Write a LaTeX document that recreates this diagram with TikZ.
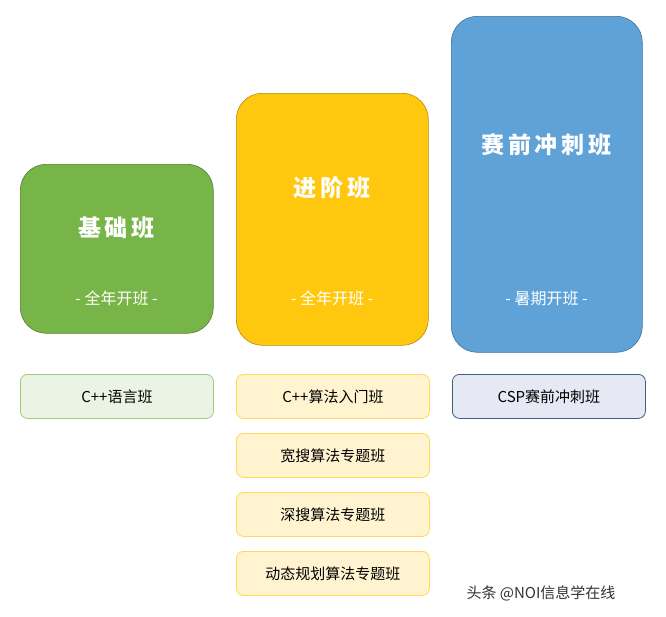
\documentclass[tikz,border=0pt]{standalone}
\usepackage{fontspec}
\newfontfamily\cjk{Noto Sans CJK SC}
\definecolor{gA}{HTML}{78B548}
\definecolor{yA}{HTML}{FFC80F}
\definecolor{bA}{HTML}{5FA2D8}
\definecolor{bS}{HTML}{E6E8F4}
\tikzset{
 big/.style={draw=#1!70!black, line width=0.6pt, fill=#1, rounded corners=26pt, anchor=north west},
 ttl/.style={text=white, font=\cjk\bfseries\fontsize{23}{26}\selectfont},
 sub/.style={text=white, font=\cjk\fontsize{16}{18}\selectfont},
 sm/.style={rounded corners=7pt, minimum width=193pt, minimum height=44pt, line width=0.8pt, font=\cjk\fontsize{15}{17}\selectfont, anchor=north west},
 smg/.style={sm, draw=gA!70, fill=gA!15},
 smy/.style={sm, draw=yA!70, fill=yA!20},
 smb/.style={sm, draw=bA!60!black, fill=bS},
}
\begin{document}
\begin{tikzpicture}[x=1pt,y=-1pt]
\useasboundingbox[fill=white] (0,0) rectangle (666,616);
\node[big=gA, minimum width=193pt, minimum height=169pt] (g) at (20,164) {};
\node[big=yA, minimum width=192pt, minimum height=252pt] (y) at (236,93) {};
\node[big=bA, minimum width=191pt, minimum height=336pt] (b) at (451,16) {};
\node[ttl] (gt) at (116.5,228) {基\,础\,班};
\node[sub] (gs) at (116.5,298) {- 全年开班 -};
\node[ttl] (yt) at (332,188) {进\,阶\,班};
\node[sub] (ys) at (332,298) {- 全年开班 -};
\node[ttl] (bt) at (546.5,145) {赛\,前\,冲\,刺\,班};
\node[sub] (bs) at (546.5,298) {- 暑期开班 -};
\node[smg] (g1) at (20,374) {C++语言班};
\node[smy] (y1) at (236,374) {C++算法入门班};
\node[smy] (y2) at (236,433) {宽搜算法专题班};
\node[smy] (y3) at (236,492) {深搜算法专题班};
\node[smy] (y4) at (236,551) {动态规划算法专题班};
\node[smb] (b1) at (452,374) {CSP赛前冲刺班};
\node[font=\cjk\fontsize{15}{17}\selectfont, text=black!80] (wm) at (541,593) {头条 @NOI信息学在线};
\end{tikzpicture}
\end{document}
